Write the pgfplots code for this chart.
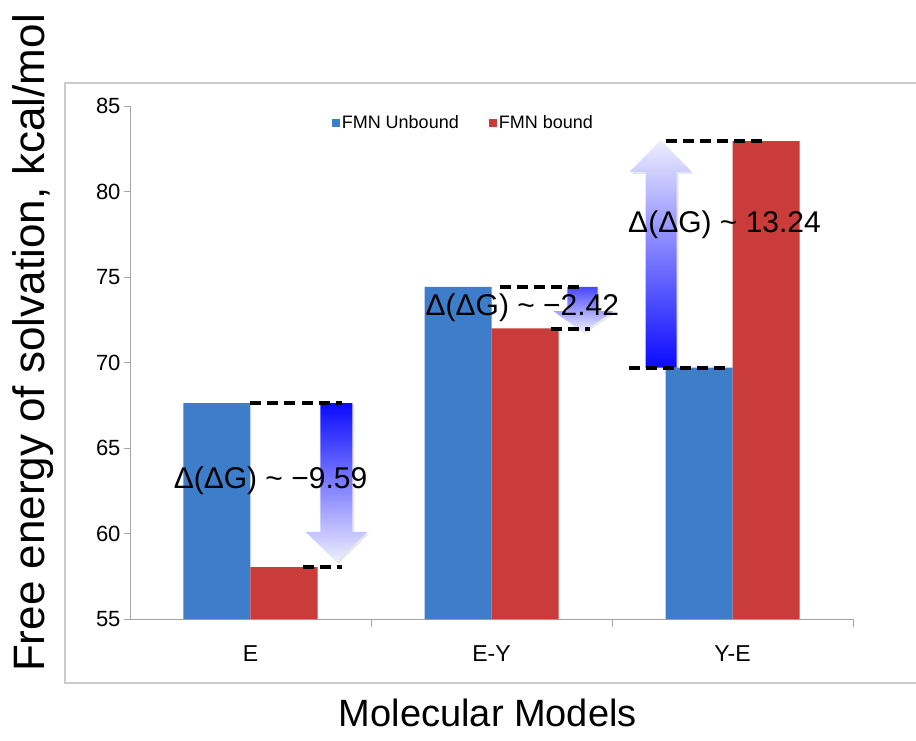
\documentclass[border=0pt]{standalone}
\usepackage{fontspec}
\setmainfont{Liberation Sans}
\usepackage{pgfplots}
\pgfplotsset{compat=1.18}
\usetikzlibrary{shadows}
\definecolor{barblue}{RGB}{61,125,201}
\definecolor{barred}{RGB}{202,60,57}
\definecolor{axgray}{RGB}{165,165,165}
\definecolor{arrblue}{RGB}{10,10,255}
\definecolor{arrpale}{RGB}{238,238,255}
\begin{document}
\begin{tikzpicture}
\path[use as bounding box] (-130bp,-122bp) rectangle (786bp,619bp);
\draw[color=gray!40, line width=1.3bp] (-65bp,-64bp) rectangle (800bp,536bp);
\begin{axis}[
  at={(0,0)}, anchor=south west,
  scale only axis, width=723bp, height=513bp,
  xmin=-0.5, xmax=2.5, ymin=55, ymax=85,
  axis x line=bottom, axis y line=left,
  axis line style={-, axgray, line width=0.8bp},
  tick align=outside,
  xtick={0,1,2}, xticklabels={E,E-Y,Y-E},
  minor xtick={0.5,1.5,2.5},
  major x tick style={draw=none},
  minor x tick style={axgray, line width=0.8bp},
  minor tick length=8bp,
  major tick length=6bp,
  ytick={55,60,...,85},
  major y tick style={axgray, line width=0.8bp},
  yticklabel style={font=\fontsize{22bp}{26bp}\selectfont},
  xticklabel style={font=\fontsize{23bp}{27bp}\selectfont, yshift=-17bp},
  /pgf/number format/assume math mode=true,
  ybar, bar width=67bp,
  xlabel={Molecular Models},
  xlabel style={at={(axis description cs:0.495,-0.183)}, anchor=center, font=\fontsize{38bp}{44bp}\selectfont},
  ylabel={Free energy of solvation, kcal/mol},
  ylabel style={at={(axis description cs:-0.134,0.538)}, anchor=center, font=\fontsize{44bp}{50bp}\selectfont},
  legend style={at={(0.461,0.967)}, anchor=center, draw=none, fill=none,
    font=\fontsize{18bp}{22bp}\selectfont, legend columns=2,
    /tikz/every even column/.append style={column sep=28bp}},
  legend image code/.code={\fill (0bp,-4bp) rectangle (8bp,4bp);},
]
\addplot[fill=barblue, draw=none, bar shift=-33.5bp] coordinates {(0,67.63) (1,74.42) (2,69.70)};
\addplot[fill=barred, draw=none, bar shift=33.5bp] coordinates {(0,58.04) (1,72.00) (2,82.94)};
\legend{FMN Unbound, FMN bound}

% arrow E (down)
\shade[top color=arrblue, bottom color=arrpale, drop shadow={opacity=0.18, shadow xshift=2bp, shadow yshift=-2bp}]
  (0.290,67.63) -- (0.423,67.63) -- (0.423,60.1) -- (0.485,60.1) -- (0.357,58.35) -- (0.228,60.1) -- (0.290,60.1) -- cycle;
% arrow E-Y (down)
\shade[top color=arrblue!75!white, bottom color=arrpale, drop shadow={opacity=0.18, shadow xshift=2bp, shadow yshift=-2bp}]
  (1.315,74.42) -- (1.440,74.42) -- (1.440,73.0) -- (1.506,73.0) -- (1.378,71.8) -- (1.257,73.0) -- (1.315,73.0) -- cycle;
% arrow Y-E (up)
\shade[bottom color=arrblue, top color=arrpale, drop shadow={opacity=0.18, shadow xshift=2bp, shadow yshift=-2bp}]
  (1.639,69.70) -- (1.768,69.70) -- (1.768,81.15) -- (1.830,81.15) -- (1.702,83.0) -- (1.573,81.15) -- (1.639,81.15) -- cycle;

% dashed levels
\draw[black, line width=4bp, dash pattern=on 11bp off 6bp] (0,67.63) -- (0.38,67.63);
\draw[black, line width=4bp, dash pattern=on 11bp off 6bp] (0.216,58.04) -- (0.38,58.04);
\draw[black, line width=4bp, dash pattern=on 11bp off 6bp] (1.037,74.42) -- (1.378,74.42);
\draw[black, line width=4bp, dash pattern=on 11bp off 6bp] (1.245,71.95) -- (1.41,71.95);
\draw[black, line width=4bp, dash pattern=on 11bp off 6bp] (1.722,82.94) -- (2.145,82.94);
\draw[black, line width=4bp, dash pattern=on 11bp off 6bp] (1.57,69.70) -- (1.99,69.70);

% annotations
\node[font=\fontsize{30bp}{36bp}\selectfont] at (0.083,63.1) {Δ(ΔG) \textasciitilde{} −9.59};
\node[font=\fontsize{30bp}{36bp}\selectfont] at (1.128,73.2) {Δ(ΔG) \textasciitilde{} −2.42};
\node[font=\fontsize{30bp}{36bp}\selectfont] at (1.967,78.04) {Δ(ΔG) \textasciitilde{} 13.24};
\end{axis}
\end{tikzpicture}
\end{document}
